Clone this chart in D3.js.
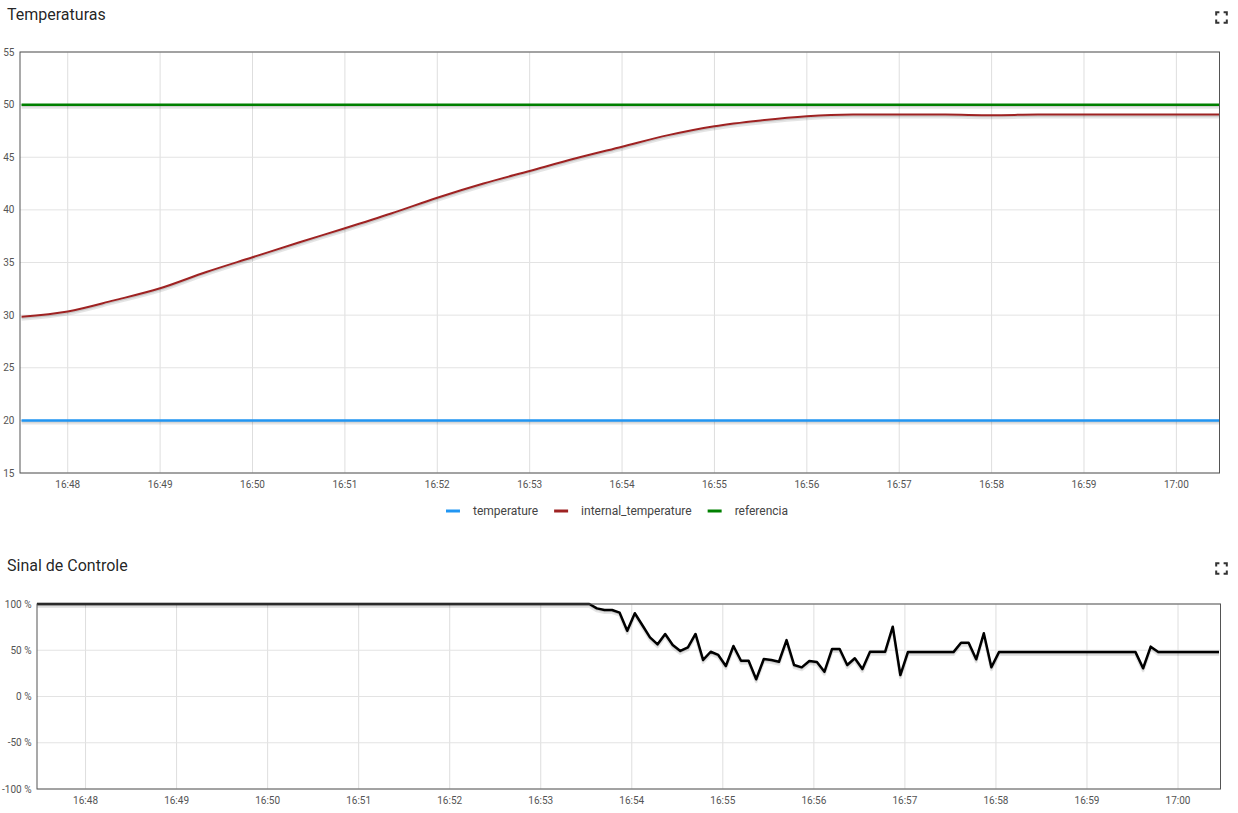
<!DOCTYPE html>
<html>
<head>
<meta charset="utf-8">
<script src="https://cdn.jsdelivr.net/npm/d3@7"></script>
<style>
    body { margin: 0; background: #fff; font-family: Roboto, "Noto Sans", sans-serif; }
    svg { display: block; }
    .title { font-size: 16px; fill: rgba(0, 0, 0, 0.87); }
    .tick-label { font-size: 10px; fill: #545454; }
    .legend-label { font-size: 12px; fill: #444; }
</style>
</head>
<body>
<svg id="chart" width="1238" height="813"></svg>
<script>
// Temperature samples (every 30 s)
const tempTimes = [
    "16:47:30", "16:48:00", "16:48:30", "16:49:00", "16:49:30", "16:50:00", "16:50:30",
    "16:51:00", "16:51:30", "16:52:00", "16:52:30", "16:53:00", "16:53:30", "16:54:00",
    "16:54:30", "16:55:00", "16:55:30", "16:56:00", "16:56:30", "16:57:00", "16:57:30",
    "16:58:00", "16:58:30", "16:59:00", "16:59:30", "17:00:00", "17:00:30"
];
const temperature = [
    20, 20, 20, 20, 20, 20, 20, 20, 20, 20, 20, 20, 20, 20,
    20, 20, 20, 20, 20, 20, 20, 20, 20, 20, 20, 20, 20
];
const internalTemperature = [
    29.85, 30.35, 31.4, 32.55, 34.1, 35.5, 36.9, 38.25, 39.65, 41.15, 42.5, 43.7, 44.9, 46.0,
    47.1, 47.95, 48.5, 48.9, 49.05, 49.05, 49.05, 49.0, 49.05, 49.05, 49.05, 49.05, 49.05
];
const referencia = [
    50, 50, 50, 50, 50, 50, 50, 50, 50, 50, 50, 50, 50, 50,
    50, 50, 50, 50, 50, 50, 50, 50, 50, 50, 50, 50, 50
];

// Control signal (%), one sample every 5 s starting at controlStart
const controlStart = "16:47:27";
const controlStep = 5;
const controlValues = [
    100, 100, 100, 100, 100, 100, 100, 100, 100, 100,
    100, 100, 100, 100, 100, 100, 100, 100, 100, 100,
    100, 100, 100, 100, 100, 100, 100, 100, 100, 100,
    100, 100, 100, 100, 100, 100, 100, 100, 100, 100,
    100, 100, 100, 100, 100, 100, 100, 100, 100, 100,
    100, 100, 100, 100, 100, 100, 100, 100, 100, 100,
    100, 100, 100, 100, 100, 100, 100, 100, 100, 100,
    100, 100, 100, 100,
    95.3, 93.5, 93.5, 90.6, 71, 90, 77, 64, 56.4, 67.6,
    55.7, 49.2, 53.2, 67.6, 39.5, 48.4, 44.9, 33, 54.6, 38.7,
    38.7, 18.6, 40.5, 39.5, 37.6, 61, 34, 31.5, 38.4, 37.3,
    26.8, 51.4, 51.4, 34, 41.3, 29.7, 48.4, 48.4, 48.4, 75.5,
    23.2, 48.1,
    48, 48, 48, 48, 48, 48,
    58.2, 58.2, 40.2, 68.3, 31.6,
    48, 48, 48, 48, 48, 48, 48, 48, 48, 48,
    48, 48, 48, 48, 48, 48, 48, 48, 48,
    30.5, 53.9,
    48, 48, 48, 48, 48, 48, 48, 48, 48
];

const tempTicks = [15, 20, 25, 30, 35, 40, 45, 50, 55];
const controlTicks = [-100, -50, 0, 50, 100];

const parseTime = d3.timeParse("%H:%M:%S");
const svg = d3.select("#chart");

// Draws one titled chart panel with gridlines, lines and a border
function drawPanel(cfg) {
    const x = d3.scaleTime().domain(cfg.xDomain).range([cfg.left, cfg.right]);
    const y = d3.scaleLinear().domain(cfg.yDomain).range([cfg.bottom, cfg.top]);
    const g = svg.append("g");

    g.append("text")
        .attr("class", "title")
        .attr("x", 7)
        .attr("y", cfg.titleY)
        .text(cfg.title);

    drawExpandIcon(g, 1221.5, cfg.titleY - 2.5);

    const xTicks = x.ticks(d3.timeMinute.every(1));

    // gridlines
    g.append("g").selectAll("line")
        .data(xTicks)
        .join("line")
        .attr("x1", d => x(d)).attr("x2", d => x(d))
        .attr("y1", cfg.top).attr("y2", cfg.bottom)
        .attr("stroke", "#dedede");
    g.append("g").selectAll("line")
        .data(cfg.yTicks)
        .join("line")
        .attr("x1", cfg.left).attr("x2", cfg.right)
        .attr("y1", d => y(d)).attr("y2", d => y(d))
        .attr("stroke", "#e3e3e3");

    // tick labels
    g.append("g").selectAll("text")
        .data(xTicks)
        .join("text")
        .attr("class", "tick-label")
        .attr("x", d => x(d))
        .attr("y", cfg.bottom + 14.5)
        .attr("text-anchor", "middle")
        .text(d3.timeFormat("%H:%M"));
    g.append("g").selectAll("text")
        .data(cfg.yTicks)
        .join("text")
        .attr("class", "tick-label")
        .attr("x", cfg.left - 5.5)
        .attr("y", d => y(d))
        .attr("dy", "0.35em")
        .attr("text-anchor", "end")
        .text(cfg.yFormat);

    // clip for the series
    const clipId = "clip-" + cfg.id;
    g.append("clipPath").attr("id", clipId)
        .append("rect")
        .attr("x", cfg.left).attr("y", cfg.top - 4)
        .attr("width", cfg.right - cfg.left)
        .attr("height", cfg.bottom - cfg.top + 8);

    const line = d3.line()
        .x(d => x(d.t))
        .y(d => y(d.v))
        .curve(cfg.curve || d3.curveLinear);
    const plot = g.append("g").attr("clip-path", `url(#${clipId})`);

    cfg.series.forEach(s => {
        // soft drop shadow under each line
        plot.append("path")
            .datum(s.points)
            .attr("d", line)
            .attr("transform", "translate(0,2.5)")
            .attr("fill", "none")
            .attr("stroke", "rgba(0,0,0,0.1)")
            .attr("stroke-width", 3)
            .attr("stroke-linejoin", "round");
        plot.append("path")
            .datum(s.points)
            .attr("d", line)
            .attr("transform", "translate(0,1.2)")
            .attr("fill", "none")
            .attr("stroke", "rgba(0,0,0,0.12)")
            .attr("stroke-width", 2)
            .attr("stroke-linejoin", "round");
        plot.append("path")
            .datum(s.points)
            .attr("d", line)
            .attr("fill", "none")
            .attr("stroke", s.color)
            .attr("stroke-width", s.width)
            .attr("stroke-linejoin", "round");
    });

    g.append("rect")
        .attr("x", cfg.left).attr("y", cfg.top)
        .attr("width", cfg.right - cfg.left)
        .attr("height", cfg.bottom - cfg.top)
        .attr("fill", "none")
        .attr("stroke", "#545454")
        .attr("stroke-width", 1);
}

function drawExpandIcon(g, cx, cy) {
    const h = 5.3, a = 3.2;
    const corners = [[-1, -1], [1, -1], [-1, 1], [1, 1]];
    g.append("g").selectAll("path")
        .data(corners)
        .join("path")
        .attr("d", ([sx, sy]) => {
            const px = cx + sx * h, py = cy + sy * h;
            return `M${px},${py - sy * a}L${px},${py}L${px - sx * a},${py}`;
        })
        .attr("fill", "none")
        .attr("stroke", "#333")
        .attr("stroke-width", 2);
}

const tempDates = tempTimes.map(parseTime);
const toPoints = vals => vals.map((v, i) => ({ t: tempDates[i], v: v }));

const tempSeries = [
    { name: "temperature", color: "#2196f3", width: 2.5, points: toPoints(temperature) },
    { name: "internal_temperature", color: "#9e2222", width: 2, points: toPoints(internalTemperature) },
    { name: "referencia", color: "#008000", width: 2.5, points: toPoints(referencia) }
];

drawPanel({
    id: "temp",
    title: "Temperaturas",
    titleY: 20,
    left: 20, right: 1219.5, top: 52, bottom: 473,
    xDomain: [parseTime("16:47:29"), parseTime("17:00:28")],
    yDomain: [15, 55],
    yTicks: tempTicks,
    yFormat: d => d,
    curve: d3.curveMonotoneX,
    series: tempSeries
});

const t0 = parseTime(controlStart);
const controlPoints = controlValues.map((v, i) => ({
    t: d3.timeSecond.offset(t0, i * controlStep),
    v: v
}));

drawPanel({
    id: "ctrl",
    title: "Sinal de Controle",
    titleY: 571,
    left: 37, right: 1220.5, top: 604, bottom: 789,
    xDomain: [parseTime("16:47:28"), parseTime("17:00:28")],
    yDomain: [-100, 100],
    yTicks: controlTicks,
    yFormat: d => d + " %",
    series: [{ name: "sinal", color: "#000", width: 2.5, points: controlPoints }]
});

// Legend below the temperature chart, centred on the plot
const legend = svg.append("g");
let lx = 0;
tempSeries.forEach(s => {
    const item = legend.append("g").attr("transform", `translate(${lx},0)`);
    item.append("line")
        .attr("x1", 0).attr("x2", 14)
        .attr("y1", 0).attr("y2", 0)
        .attr("stroke", s.color)
        .attr("stroke-width", 3);
    const label = item.append("text")
        .attr("class", "legend-label")
        .attr("x", 27)
        .attr("dy", "0.35em")
        .text(s.name);
    lx += 27 + label.node().getComputedTextLength() + 16;
});
const legendWidth = lx - 16;
legend.attr("transform", `translate(${617 - legendWidth / 2},511)`);
</script>
</body>
</html>
